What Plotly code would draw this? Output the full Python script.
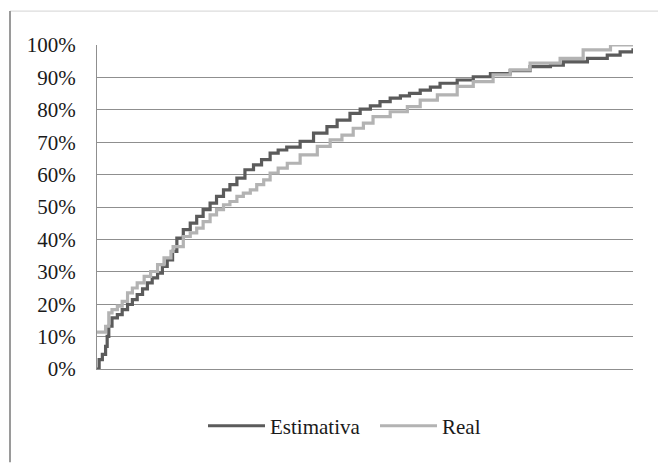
import plotly.graph_objects as go

# x: position along the horizontal (category) axis, in % of the item range
real_x = [0, 1.3, 1.6, 2.2, 2.8, 3.8, 4.7, 5.7, 6.6, 7.5, 8.8, 10.0, 11.3, 12.5, 13.8, 14.2,
          16.1, 17.4, 18.6, 19.8, 21.1, 22.3, 23.6, 24.8, 26.1, 27.3, 28.6, 29.8, 31.1, 32.3,
          33.8, 35.5, 37.9, 41.1, 43.5, 45.7, 47.8, 49.7, 51.5, 54.7, 57.9, 60.3, 63.5, 67.2,
          70.2, 73.9, 77.1, 80.8, 86.4, 90.7, 95.8, 100]
real_y = [11.4, 11.4, 13.2, 17.3, 18.3, 19.4, 20.9, 23.5, 25.0, 26.6, 28.6, 30.1, 32.2, 34.3,
          36.3, 37.8, 40.9, 42.0, 43.5, 45.5, 47.6, 49.2, 50.7, 51.7, 53.3, 54.3, 55.3, 56.9,
          58.4, 60.5, 62.0, 63.5, 66.1, 68.7, 70.7, 72.2, 74.3, 75.9, 77.9, 79.4, 81.0, 83.0,
          84.6, 87.2, 88.7, 90.8, 92.3, 94.4, 95.9, 98.5, 100, 100]

est_x = [0, 0.4, 1.0, 1.6, 1.9, 2.2, 2.8, 3.8, 4.7, 5.7, 6.6, 7.5, 8.5, 9.4, 10.3, 11.3, 12.2,
         13.1, 14.1, 14.9, 16.1, 17.4, 18.6, 19.8, 21.1, 22.3, 23.6, 24.8, 26.1, 27.6, 29.2,
         30.7, 32.3, 33.8, 35.4, 37.9, 40.4, 42.9, 44.8, 47.2, 49.1, 51.0, 52.8, 54.7, 56.6,
         58.3, 60.3, 62.2, 64.0, 67.2, 70.2, 73.4, 77.1, 80.8, 84.6, 87.0, 91.5, 95.2, 97.6, 100]
est_y = [0, 2.9, 4.5, 7.0, 10.1, 13.2, 15.8, 16.8, 18.3, 19.9, 21.4, 23.0, 24.7, 26.6, 28.1,
         29.6, 31.7, 33.7, 36.3, 40.4, 43.0, 45.0, 47.1, 49.2, 51.2, 53.3, 55.3, 56.9, 58.9,
         61.5, 63.0, 64.6, 66.6, 67.6, 68.5, 70.3, 72.8, 74.8, 76.8, 78.9, 80.2, 81.2, 82.5,
         83.6, 84.3, 85.1, 86.1, 87.0, 88.2, 89.2, 90.2, 91.2, 92.1, 93.3, 93.8, 94.8, 95.9,
         96.9, 97.9, 99.0]

series_names = ["Estimativa", "Real"]
y_ticks = [0, 10, 20, 30, 40, 50, 60, 70, 80, 90, 100]
y_tick_labels = [f"{v}%" for v in y_ticks]

FONT = "Liberation Serif, Times New Roman, serif"
GRID = "#8f8f8f"

fig = go.Figure()
fig.add_trace(go.Scatter(x=est_x, y=est_y, name=series_names[0], mode="lines",
                         line=dict(color="#5b5b5b", width=3.2, shape="hv")))
fig.add_trace(go.Scatter(x=real_x, y=real_y, name=series_names[1], mode="lines",
                         line=dict(color="#b3b3b3", width=3.2, shape="hv")))

W, H = 658, 463
L, R, T, B = 97, 25, 45, 93.5
pw, ph = W - L - R, H - T - B

def px(x):
    return (x - L) / pw

def py(y):
    return (H - B - y) / ph

fig.update_layout(
    width=W, height=H,
    margin=dict(l=L, r=R, t=T, b=B, pad=0),
    paper_bgcolor="white", plot_bgcolor="white",
    font=dict(family=FONT, size=21, color="#1a1a1a"),
    showlegend=True,
    legend=dict(orientation="h", x=px(203), xanchor="left", y=py(426.7), yanchor="middle",
                font=dict(family=FONT, size=21, color="#1a1a1a"),
                itemwidth=57, entrywidth=100, entrywidthmode="pixels",
                bgcolor="rgba(0,0,0,0)"),
    xaxis=dict(range=[0, 100], showgrid=False, zeroline=False, showticklabels=False,
               ticks="", showline=True, linecolor=GRID, linewidth=1.3, mirror=False,
               fixedrange=True),
    yaxis=dict(range=[0, 100], tickvals=y_ticks, ticktext=y_tick_labels,
               showgrid=True, gridcolor=GRID, gridwidth=1.3, zeroline=False,
               showline=True, linecolor=GRID, linewidth=1.3, ticks="",
               ticklabelstandoff=16, fixedrange=True),
    shapes=[
        dict(type="line", xref="paper", yref="paper", x0=px(10), x1=px(658), y0=py(11), y1=py(11),
             line=dict(color="#dcdcdc", width=1.2)),
        dict(type="line", xref="paper", yref="paper", x0=px(10), x1=px(10), y0=py(11), y1=py(463),
             line=dict(color="#9a9a9a", width=2)),
    ],
)

fig.write_html("out.html")
